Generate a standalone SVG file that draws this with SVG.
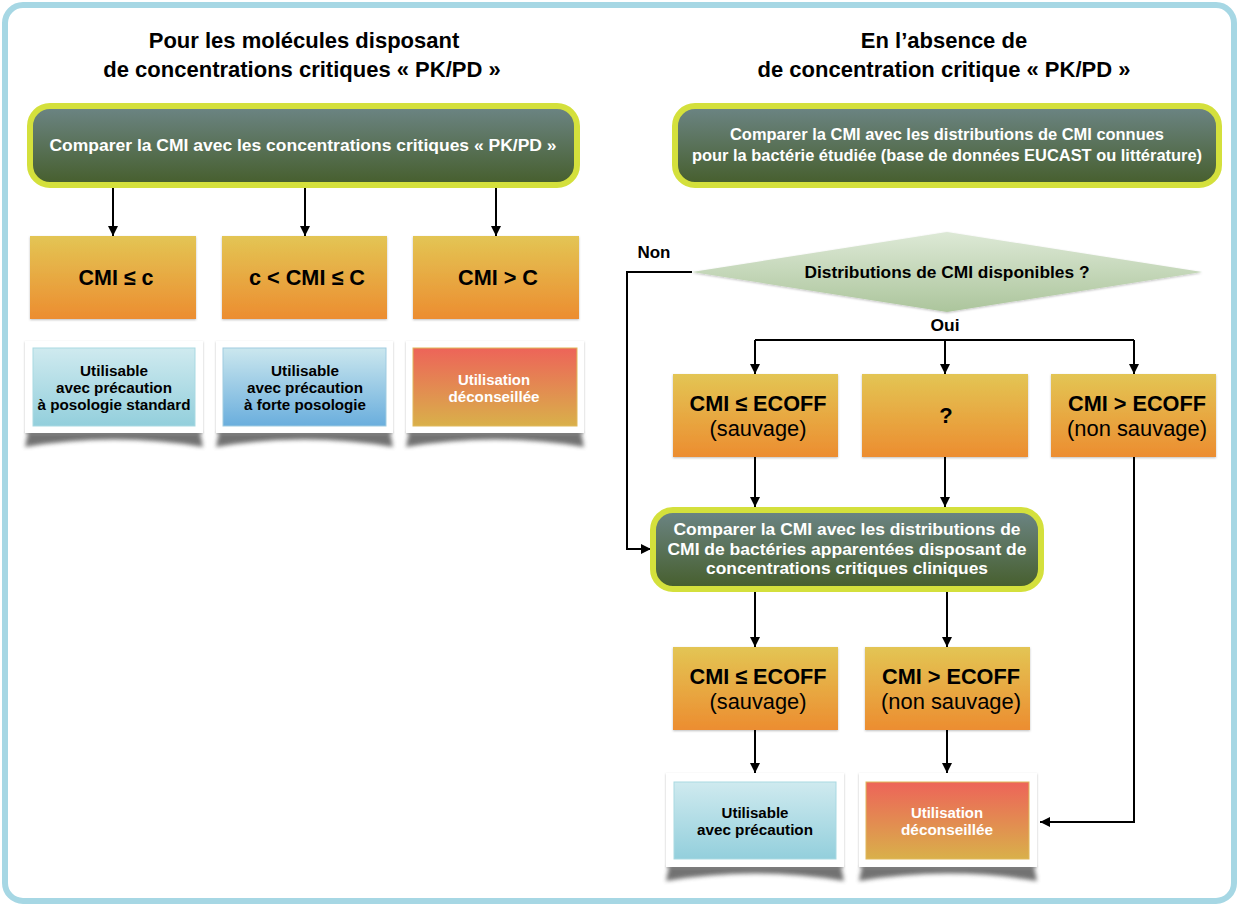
<svg xmlns="http://www.w3.org/2000/svg" width="1239" height="906" viewBox="0 0 1239 906">
<defs>
<linearGradient id="gGreen" x1="0" y1="0" x2="0" y2="1"><stop offset="0" stop-color="#6c8585"/><stop offset="1" stop-color="#465e2c"/></linearGradient>
<linearGradient id="gOrange" x1="0" y1="0" x2="0" y2="1"><stop offset="0" stop-color="#e3c554"/><stop offset="1" stop-color="#ec8d30"/></linearGradient>
<linearGradient id="gCyan" x1="0" y1="0" x2="0" y2="1"><stop offset="0" stop-color="#cfeaef"/><stop offset="1" stop-color="#93cfdc"/></linearGradient>
<linearGradient id="gBlue" x1="0" y1="0" x2="0" y2="1"><stop offset="0" stop-color="#cbe7ee"/><stop offset="1" stop-color="#6aaedd"/></linearGradient>
<linearGradient id="gRed" x1="0" y1="0" x2="0" y2="1"><stop offset="0" stop-color="#ed6459"/><stop offset="1" stop-color="#d9b04a"/></linearGradient>
<linearGradient id="gDiamond" x1="0" y1="0" x2="0" y2="1"><stop offset="0" stop-color="#dde9d6"/><stop offset="1" stop-color="#acc59c"/></linearGradient>
<filter id="blur" x="-10%" y="-50%" width="120%" height="200%"><feGaussianBlur stdDeviation="2"/></filter>
<filter id="soft" x="-10%" y="-10%" width="120%" height="130%"><feDropShadow dx="0" dy="1" stdDeviation="1.2" flood-color="#000" flood-opacity="0.25"/></filter>
<marker id="arr" markerWidth="10" markerHeight="10" refX="10" refY="5" orient="auto" markerUnits="userSpaceOnUse"><path d="M0,0 L10,5 L0,10 z" fill="#000"/></marker>
<style>
.frame{fill:#fff;stroke:#a6d7e4;stroke-width:6}
.title{font-family:"Liberation Sans",Arial,sans-serif;font-weight:bold;font-size:22px;fill:#000;text-anchor:middle}
.gbox{fill:url(#gGreen);stroke:#d4e03c;stroke-width:6}
.gtxt{font-family:"Liberation Sans Narrow","Liberation Sans",Arial,sans-serif;font-weight:bold;font-size:16px;fill:#fff;text-anchor:middle}
.obox{fill:url(#gOrange);filter:url(#soft)}
.otxt{font-family:"Liberation Sans Narrow","Liberation Sans",Arial,sans-serif;font-weight:bold;font-size:22px;fill:#000;text-anchor:middle}
.otxt2{font-family:"Liberation Sans Narrow","Liberation Sans",Arial,sans-serif;font-size:22px;fill:#000;text-anchor:middle}
.card{fill:#fff;filter:url(#soft)}
.curl{fill:#5a5a5a;opacity:0.85;filter:url(#blur)}
.ctxt{font-family:"Liberation Sans Narrow","Liberation Sans",Arial,sans-serif;font-weight:bold;font-size:14.5px;fill:#000;text-anchor:middle}
.ctxtw{font-family:"Liberation Sans Narrow","Liberation Sans",Arial,sans-serif;font-weight:bold;font-size:14.5px;fill:#fff;text-anchor:middle}
.lbl{font-family:"Liberation Sans Narrow","Liberation Sans",Arial,sans-serif;font-weight:bold;font-size:16px;fill:#000;text-anchor:middle}
.conn{fill:none;stroke:#000;stroke-width:2}
</style>
</defs>

<rect class="frame" x="5" y="5" width="1229" height="896" rx="18"/>

<g id="titles">
<text class="title" x="304" y="48">Pour les molécules disposant</text>
<text class="title" x="302" y="77">de concentrations critiques « PK/PD »</text>
<text class="title" x="944" y="48">En l’absence de</text>
<text class="title" x="944" y="77">de concentration critique « PK/PD »</text>
</g>

<g id="connectors">
<path class="conn" d="M113,188 V236" marker-end="url(#arr)"/>
<path class="conn" d="M305,188 V236" marker-end="url(#arr)"/>
<path class="conn" d="M496,188 V236" marker-end="url(#arr)"/>
<path class="conn" d="M692,272 H627 V549 H651" marker-end="url(#arr)"/>
<path class="conn" d="M755,340 H1134"/>
<path class="conn" d="M755,340 V374" marker-end="url(#arr)"/>
<path class="conn" d="M945,340 V374" marker-end="url(#arr)"/>
<path class="conn" d="M1134,340 V374" marker-end="url(#arr)"/>
<path class="conn" d="M755,457 V507" marker-end="url(#arr)"/>
<path class="conn" d="M945,457 V507" marker-end="url(#arr)"/>
<path class="conn" d="M755,592 V647" marker-end="url(#arr)"/>
<path class="conn" d="M947,592 V647" marker-end="url(#arr)"/>
<path class="conn" d="M755,730 V773" marker-end="url(#arr)"/>
<path class="conn" d="M947,730 V773" marker-end="url(#arr)"/>
<path class="conn" d="M1134,457 V822 H1040" marker-end="url(#arr)"/>
</g>

<g id="n-compare-pkpd">
<rect class="gbox" x="30" y="106" width="547" height="79" rx="20"/>
<text class="gtxt" x="303" y="151" textLength="507" lengthAdjust="spacingAndGlyphs">Comparer la CMI avec les concentrations critiques « PK/PD »</text>
</g>

<g id="n-cmi-le-c">
<rect class="obox" x="30" y="236" width="166" height="83"/>
<text class="otxt" x="116" y="285" textLength="75" lengthAdjust="spacingAndGlyphs">CMI ≤ c</text>
</g>
<g id="n-c-cmi-C">
<rect class="obox" x="222" y="236" width="165" height="83"/>
<text class="otxt" x="307" y="285" textLength="116" lengthAdjust="spacingAndGlyphs">c &lt; CMI ≤ C</text>
</g>
<g id="n-cmi-gt-C">
<rect class="obox" x="413" y="236" width="166" height="83"/>
<text class="otxt" x="498" y="285" textLength="80" lengthAdjust="spacingAndGlyphs">CMI &gt; C</text>
</g>

<g id="n-res-standard">
<path class="curl" d="M28,432 H200 L203,447 Q114,432 25,447 Z"/>
<rect class="card" x="25" y="341" width="178" height="92"/>
<rect x="33" y="348" width="162" height="78" fill="url(#gCyan)" stroke="#a9d9e2" stroke-width="1"/>
<text class="ctxt" x="114" y="376" textLength="68" lengthAdjust="spacingAndGlyphs">Utilisable</text>
<text class="ctxt" x="114" y="393" textLength="116" lengthAdjust="spacingAndGlyphs">avec précaution</text>
<text class="ctxt" x="114" y="410" textLength="153" lengthAdjust="spacingAndGlyphs">à posologie standard</text>
</g>
<g id="n-res-forte">
<path class="curl" d="M219,432 H390 L393,447 Q304,432 216,447 Z"/>
<rect class="card" x="216" y="341" width="177" height="92"/>
<rect x="223" y="348" width="163" height="78" fill="url(#gBlue)" stroke="#9fcbe0" stroke-width="1"/>
<text class="ctxt" x="305" y="376" textLength="68" lengthAdjust="spacingAndGlyphs">Utilisable</text>
<text class="ctxt" x="305" y="393" textLength="116" lengthAdjust="spacingAndGlyphs">avec précaution</text>
<text class="ctxt" x="305" y="410" textLength="122" lengthAdjust="spacingAndGlyphs">à forte posologie</text>
</g>
<g id="n-res-deconseille-left">
<path class="curl" d="M409,432 H581 L584,447 Q495,432 406,447 Z"/>
<rect class="card" x="406" y="341" width="178" height="92"/>
<rect x="413" y="348" width="164" height="78" fill="url(#gRed)" stroke="#e0b85a" stroke-width="1"/>
<text class="ctxtw" x="494" y="385" textLength="72" lengthAdjust="spacingAndGlyphs">Utilisation</text>
<text class="ctxtw" x="494" y="402" textLength="91" lengthAdjust="spacingAndGlyphs">déconseillée</text>
</g>

<g id="n-compare-distrib">
<rect class="gbox" x="675" y="106" width="544" height="79" rx="20"/>
<text class="gtxt" x="947" y="140" textLength="434" lengthAdjust="spacingAndGlyphs">Comparer la CMI avec les distributions de CMI connues</text>
<text class="gtxt" x="947" y="161" textLength="510" lengthAdjust="spacingAndGlyphs">pour la bactérie étudiée (base de données EUCAST ou littérature)</text>
</g>

<g id="n-decision">
<polygon points="692,272 947,232 1202,272 947,312" fill="url(#gDiamond)" filter="url(#soft)"/>
<text class="lbl" x="947" y="278" textLength="285" lengthAdjust="spacingAndGlyphs">Distributions de CMI disponibles ?</text>
<text class="lbl" x="654" y="258" textLength="33" lengthAdjust="spacingAndGlyphs">Non</text>
<text class="lbl" x="945" y="331" textLength="29" lengthAdjust="spacingAndGlyphs">Oui</text>
</g>

<g id="n-le-ecoff-1">
<rect class="obox" x="673" y="374" width="165" height="83"/>
<text class="otxt" x="758" y="411" textLength="137" lengthAdjust="spacingAndGlyphs">CMI ≤ ECOFF</text>
<text class="otxt2" x="758" y="436" textLength="97" lengthAdjust="spacingAndGlyphs">(sauvage)</text>
</g>
<g id="n-question">
<rect class="obox" x="862" y="374" width="166" height="83"/>
<text class="otxt" x="946" y="423">?</text>
</g>
<g id="n-gt-ecoff-1">
<rect class="obox" x="1051" y="374" width="165" height="83"/>
<text class="otxt" x="1137" y="411" textLength="138" lengthAdjust="spacingAndGlyphs">CMI &gt; ECOFF</text>
<text class="otxt2" x="1137" y="436" textLength="140" lengthAdjust="spacingAndGlyphs">(non sauvage)</text>
</g>

<g id="n-compare-apparentees">
<rect class="gbox" x="653" y="510" width="388" height="79" rx="20"/>
<text class="gtxt" x="847" y="535" textLength="347" lengthAdjust="spacingAndGlyphs">Comparer la CMI avec les distributions de</text>
<text class="gtxt" x="847" y="555" textLength="359" lengthAdjust="spacingAndGlyphs">CMI de bactéries apparentées disposant de</text>
<text class="gtxt" x="847" y="574" textLength="282" lengthAdjust="spacingAndGlyphs">concentrations critiques cliniques</text>
</g>

<g id="n-le-ecoff-2">
<rect class="obox" x="673" y="647" width="165" height="83"/>
<text class="otxt" x="758" y="684" textLength="137" lengthAdjust="spacingAndGlyphs">CMI ≤ ECOFF</text>
<text class="otxt2" x="758" y="709" textLength="97" lengthAdjust="spacingAndGlyphs">(sauvage)</text>
</g>
<g id="n-gt-ecoff-2">
<rect class="obox" x="865" y="647" width="165" height="83"/>
<text class="otxt" x="951" y="684" textLength="138" lengthAdjust="spacingAndGlyphs">CMI &gt; ECOFF</text>
<text class="otxt2" x="951" y="709" textLength="140" lengthAdjust="spacingAndGlyphs">(non sauvage)</text>
</g>

<g id="n-res-precaution">
<path class="curl" d="M669,866 H841 L844,881 Q755,866 666,881 Z"/>
<rect class="card" x="666" y="773" width="178" height="94"/>
<rect x="674" y="782" width="162" height="77" fill="url(#gCyan)" stroke="#a9d9e2" stroke-width="1"/>
<text class="ctxt" x="755" y="818" textLength="67" lengthAdjust="spacingAndGlyphs">Utilisable</text>
<text class="ctxt" x="755" y="835" textLength="116" lengthAdjust="spacingAndGlyphs">avec précaution</text>
</g>
<g id="n-res-deconseille-right">
<path class="curl" d="M862,866 H1034 L1037,881 Q948,866 859,881 Z"/>
<rect class="card" x="859" y="773" width="178" height="94"/>
<rect x="866" y="782" width="163" height="77" fill="url(#gRed)" stroke="#e0b85a" stroke-width="1"/>
<text class="ctxtw" x="947" y="818" textLength="72" lengthAdjust="spacingAndGlyphs">Utilisation</text>
<text class="ctxtw" x="947" y="835" textLength="92" lengthAdjust="spacingAndGlyphs">déconseillée</text>
</g>
</svg>
